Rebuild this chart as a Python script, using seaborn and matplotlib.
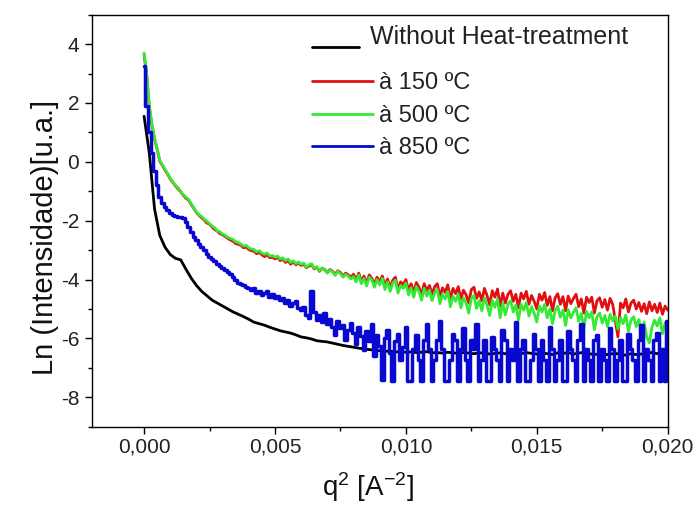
import numpy as np
import pandas as pd
import matplotlib
matplotlib.use("Agg")
import matplotlib.pyplot as plt
import seaborn as sns
from matplotlib.ticker import MultipleLocator, FuncFormatter
from matplotlib.lines import Line2D
from matplotlib.legend_handler import HandlerLine2D

# Scattering vector squared, q^2 [A^-2]
q2_coarse = np.linspace(0.0, 0.020, 101)   # untreated sample
q2_fine = np.linspace(0.0, 0.020, 201)     # heat-treated samples

# ln(I) for the untreated sample
ln_untreated = [
    1.55, 0.30, -1.60, -2.50, -2.90, -3.15, -3.28, -3.33, -3.65, -3.95,
    -4.20, -4.40, -4.55, -4.70, -4.80, -4.90, -5.00, -5.10, -5.18, -5.26,
    -5.35, -5.45, -5.50, -5.55, -5.62, -5.68, -5.74, -5.78, -5.82, -5.88,
    -5.95, -5.98, -6.02, -6.08, -6.10, -6.12, -6.16, -6.20, -6.24, -6.27,
    -6.30, -6.33, -6.36, -6.38, -6.40, -6.42,
    -6.44, -6.43, -6.46, -6.45, -6.47, -6.46, -6.48, -6.47, -6.45, -6.49,
    -6.48, -6.50, -6.47, -6.49, -6.51, -6.48, -6.50, -6.52, -6.49, -6.50,
    -6.53, -6.51, -6.49, -6.52, -6.54, -6.50, -6.52, -6.48, -6.51, -6.53,
    -6.50, -6.52, -6.55, -6.49, -6.51, -6.48, -6.53, -6.50, -6.47, -6.52,
    -6.55, -6.52, -6.56, -6.53, -6.51, -6.54, -6.57, -6.52, -6.55, -6.53,
    -6.50, -6.48, -6.52, -6.45, -6.42,
]

# ln(I) after treatment at 150 ºC
ln_150 = [
    3.65, 2.95, 1.85, 1.25, 0.78, 0.42, 0.02, -0.12, -0.28, -0.42,
    -0.58, -0.70, -0.82, -0.92, -1.02, -1.14, -1.24, -1.30, -1.45, -1.58,
    -1.72, -1.82, -1.90, -1.98, -2.08, -2.12, -2.22, -2.30, -2.36, -2.44,
    -2.48, -2.54, -2.60, -2.66, -2.70, -2.78, -2.80, -2.84, -2.92, -2.90,
    -2.98, -3.02, -3.04, -3.12, -3.08, -3.16, -3.22, -3.16, -3.26, -3.24,
    -3.30, -3.24, -3.36, -3.30, -3.42, -3.36, -3.48, -3.40, -3.50, -3.44,
    -3.52, -3.48, -3.60, -3.54, -3.50, -3.64, -3.58, -3.72, -3.62, -3.66,
    -3.76, -3.66, -3.72, -3.82, -3.70, -3.76, -3.88, -3.78, -3.84, -3.92,
    -3.82, -4.00, -3.78, -4.06, -3.88, -4.12, -3.84, -3.96, -4.16, -3.92,
    -4.08, -3.88, -4.22, -3.98, -4.28, -4.02, -3.92, -4.34, -4.08, -4.18,
    -4.00, -4.36, -4.14, -4.44, -4.10, -4.26, -4.52, -4.14, -4.38, -4.20,
    -4.50, -4.24, -4.14, -4.58, -4.28, -4.44, -4.18, -4.66, -4.30, -4.48,
    -4.24, -4.66, -4.36, -4.52, -4.80, -4.34, -4.26, -4.64, -4.42, -4.72,
    -4.30, -4.54, -4.86, -4.38, -4.60, -4.32, -4.90, -4.46, -4.80, -4.50,
    -4.38, -4.74, -4.50, -4.96, -4.46, -4.66, -4.40, -4.84, -4.54, -4.74,
    -5.00, -4.50, -4.70, -4.44, -4.88, -4.58, -5.06, -4.62, -4.48, -4.84,
    -4.58, -5.06, -4.56, -4.82, -4.64, -4.50, -4.92, -4.66, -5.14, -4.60,
    -4.78, -4.60, -5.14, -4.72, -4.62, -4.94, -4.68, -5.04, -4.64, -4.84,
    -5.40, -5.95, -4.80, -4.96, -4.66, -5.10, -4.80, -4.70, -5.00, -4.78,
    -5.08, -4.82, -5.16, -4.76, -5.06, -4.84, -5.12, -4.80, -5.18, -4.90,
    -5.04,
]

# ln(I) after treatment at 500 ºC
ln_500 = [
    3.70, 3.00, 1.90, 1.30, 0.80, 0.45, 0.05, -0.10, -0.25, -0.40,
    -0.55, -0.68, -0.80, -0.88, -1.00, -1.12, -1.20, -1.28, -1.42, -1.56,
    -1.70, -1.80, -1.86, -1.95, -2.02, -2.10, -2.18, -2.24, -2.35, -2.38,
    -2.45, -2.50, -2.56, -2.60, -2.64, -2.72, -2.74, -2.80, -2.86, -2.84,
    -2.92, -2.96, -2.98, -3.06, -3.02, -3.10, -3.14, -3.10, -3.20, -3.18,
    -3.24, -3.20, -3.30, -3.26, -3.36, -3.30, -3.42, -3.36, -3.46, -3.40,
    -3.48, -3.44, -3.58, -3.50, -3.46, -3.62, -3.56, -3.70, -3.60, -3.66,
    -3.78, -3.68, -3.74, -3.86, -3.72, -3.80, -3.92, -3.82, -3.88, -3.98,
    -3.90, -4.08, -3.84, -4.14, -3.96, -4.22, -3.92, -4.02, -4.26, -4.00,
    -4.18, -3.96, -4.34, -4.08, -4.40, -4.12, -4.02, -4.46, -4.20, -4.30,
    -4.12, -4.52, -4.28, -4.60, -4.24, -4.40, -4.70, -4.30, -4.56, -4.36,
    -4.72, -4.44, -4.34, -4.82, -4.50, -4.66, -4.40, -4.92, -4.56, -4.74,
    -4.50, -4.96, -4.62, -4.80, -5.14, -4.64, -4.54, -4.98, -4.72, -5.06,
    -4.62, -4.86, -5.22, -4.70, -4.94, -4.66, -5.30, -4.80, -5.20, -4.84,
    -4.72, -5.10, -4.86, -5.38, -4.84, -5.04, -4.78, -5.24, -4.92, -5.14,
    -5.44, -4.90, -5.10, -4.84, -5.30, -5.00, -5.50, -5.06, -4.90, -5.28,
    -5.04, -5.56, -5.02, -5.30, -5.12, -4.96, -5.42, -5.16, -5.66, -5.08,
    -5.30, -5.10, -5.70, -5.26, -5.14, -5.48, -5.22, -5.60, -5.18, -5.40,
    -5.24, -5.68, -5.30, -5.50, -5.20, -5.76, -5.38, -5.26, -5.60, -5.36,
    -5.78, -5.44, -5.96, -6.15, -5.62, -5.38, -5.58, -5.30, -5.84, -5.48,
    -5.62,
]

# ln(I) after treatment at 850 ºC
ln_850 = [
    3.25, 1.90, 1.00, 0.30, -0.30, -0.80, -1.20, -1.40, -1.55, -1.65,
    -1.75, -1.80, -1.85, -1.87, -1.88, -1.92, -2.05, -2.20, -2.40, -2.55,
    -2.67, -2.78, -2.90, -3.00, -3.13, -3.22, -3.30, -3.38, -3.47, -3.55,
    -3.60, -3.68, -3.75, -3.82, -3.90, -4.00, -4.10, -4.15, -4.20, -4.25,
    -4.30, -4.36, -4.28, -4.45, -4.38, -4.52, -4.46, -4.40, -4.58, -4.50,
    -4.62, -4.55, -4.70, -4.64, -4.78, -4.68, -4.90, -4.80, -4.74, -4.96,
    -5.05, -4.92, -5.20, -5.30, -4.40, -5.10, -5.36, -5.22, -5.44, -5.15,
    -5.50, -5.34, -5.62, -5.90, -5.40, -5.66, -5.56, -6.05, -5.70, -5.48,
    -5.80, -6.20, -5.60, -5.92, -6.40, -5.75, -6.10, -5.50, -6.60, -5.90,
    -6.25, -7.40, -6.00, -5.70, -6.50, -7.44, -6.10, -5.85, -6.75, -6.30,
    -5.60, -7.44, -7.44, -6.35, -5.90, -6.75, -7.44, -6.05, -5.50, -6.35,
    -7.44, -6.75, -6.05, -5.40, -6.35, -7.44, -7.44, -6.75, -5.85, -6.05,
    -7.44, -6.35, -5.65, -6.75, -7.44, -6.05, -6.35, -5.50, -7.44, -6.75,
    -6.05, -7.44, -7.44, -5.95, -6.35, -6.75, -7.44, -5.70, -6.05, -7.44,
    -6.35, -6.75, -5.45, -7.44, -6.35, -6.05, -7.44, -7.44, -6.75, -5.85,
    -6.35, -7.44, -6.05, -6.75, -7.44, -5.60, -6.35, -7.44, -6.75, -6.05,
    -7.44, -7.44, -5.75, -6.35, -6.75, -7.44, -6.05, -5.50, -7.44, -6.35,
    -6.75, -7.44, -6.05, -5.90, -7.44, -6.35, -6.75, -7.44, -5.65, -6.35,
    -7.44, -6.75, -6.05, -7.44, -7.44, -5.85, -6.35, -6.75, -7.44, -6.05,
    -5.55, -7.44, -6.35, -6.75, -7.44, -6.05, -5.80, -7.44, -6.35, -7.44,
    -5.40,
]

labels = ["Without Heat-treatment", "à 150 ºC", "à 500 ºC", "à 850 ºC"]
colors = ["#000000", "#e01010", "#35ea35", "#0808d0"]
grids = [q2_coarse, q2_fine, q2_fine, q2_fine]
series = [ln_untreated, ln_150, ln_500, ln_850]

df = pd.concat(
    [pd.DataFrame({"q2": g, "lnI": vals, "amostra": lab})
     for lab, g, vals in zip(labels, grids, series)],
    ignore_index=True,
)

sns.set_theme(style="ticks")
plt.rcParams["font.family"] = ["Liberation Sans", "DejaVu Sans"]
plt.rcParams["mathtext.fontset"] = "custom"
plt.rcParams["mathtext.rm"] = "Liberation Sans"
plt.rcParams["mathtext.it"] = "Liberation Sans:italic"
plt.rcParams["mathtext.bf"] = "Liberation Sans:bold"

fig = plt.figure(figsize=(6.99, 5.09), dpi=100)
ax = fig.add_axes([0.1312, 0.1617, 0.824, 0.8094])

# smooth-looking curves first, the noisy 850 ºC curve drawn as steps on top
for lab, col in zip(labels[:3], colors[:3]):
    sns.lineplot(data=df[df["amostra"] == lab], x="q2", y="lnI",
                 color=col, estimator=None, sort=False, lw=2.0, ax=ax)
sns.lineplot(data=df[df["amostra"] == labels[3]], x="q2", y="lnI",
             color=colors[3], estimator=None, sort=False, lw=2.5,
             drawstyle="steps-mid", ax=ax)

ax.set_xlim(-0.002, 0.020)
ax.set_ylim(-9, 5)
ax.xaxis.set_major_locator(MultipleLocator(0.005))
ax.xaxis.set_minor_locator(MultipleLocator(0.0025))
ax.yaxis.set_major_locator(MultipleLocator(2))
ax.yaxis.set_minor_locator(MultipleLocator(1))
ax.xaxis.set_major_formatter(FuncFormatter(lambda v, p: f"{v:.3f}".replace(".", ",")))
ax.yaxis.set_major_formatter(FuncFormatter(lambda v, p: f"{v:.0f}"))

ax.tick_params(which="major", direction="out", length=5, width=1.0,
               color="black", labelsize=15, labelcolor="#222222")
ax.tick_params(axis="x", which="major", pad=3)
ax.tick_params(axis="y", which="major", pad=4)
ax.tick_params(which="minor", direction="out", length=3, width=1.0, color="black")
for s in ax.spines.values():
    s.set_color("black")
    s.set_linewidth(1.0)

ax.set_xlabel(r"q$^{2}$ [A$^{-2}$]", fontsize=20, color="#111111")
ax.set_ylabel("Ln (Intensidade)[u.a.]", fontsize=21, color="#111111")
ax.xaxis.set_label_coords(0.48, -0.105)
ax.yaxis.set_label_coords(-0.057, 0.46)


class BaselineLine(HandlerLine2D):
    """Legend line drawn near the text baseline instead of its middle."""

    def create_artists(self, legend, orig_handle, xdescent, ydescent,
                       width, height, fontsize, trans):
        arts = super().create_artists(legend, orig_handle, xdescent, ydescent,
                                      width, height, fontsize, trans)
        for a in arts:
            if hasattr(a, "get_ydata"):
                a.set_ydata(np.asarray(a.get_ydata()) - 0.62 * height)
        return arts


h0 = Line2D([], [], color=colors[0], lw=2.0)
leg1 = ax.legend(
    [h0], [labels[0]], loc="upper left", bbox_to_anchor=(0.382, 0.974),
    frameon=False, fontsize=18, handlelength=1.9, handletextpad=0.45,
    borderpad=0, borderaxespad=0, handler_map={h0: BaselineLine()},
)
for t in leg1.get_texts():
    t.set_color("#222222")
ax.add_artist(leg1)

hs = [Line2D([], [], color=c, lw=2.0) for c in colors[1:]]
leg2 = ax.legend(
    hs, labels[1:], loc="upper left", bbox_to_anchor=(0.382, 0.86),
    frameon=False, fontsize=17, handlelength=2.58, handletextpad=0.25,
    labelspacing=0.44, borderpad=0, borderaxespad=0,
)
for t in leg2.get_texts():
    t.set_color("#222222")

fig.savefig("out.png", dpi=100)
